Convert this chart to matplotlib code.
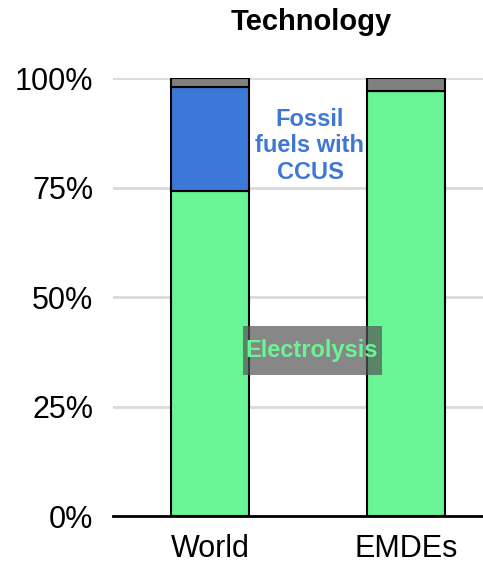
import matplotlib
matplotlib.use("Agg")
import matplotlib.pyplot as plt
from matplotlib.patches import Rectangle

plt.rcParams['font.family'] = ['Liberation Sans', 'DejaVu Sans']

categories = ["World", "EMDEs"]
electrolysis = [74.2, 97.0]
fossil_ccus = [23.8, 0.0]
other = [2.0, 3.0]
yticks = [0, 25, 50, 75, 100]
ytick_labels = ["0%", "25%", "50%", "75%", "100%"]

c_green = "#69F595"
c_blue = "#3C78D8"
c_gray = "#808080"

fig = plt.figure(figsize=(4.83, 5.66), dpi=100)
ax = fig.add_axes([0.234, 0.0883, 0.766, 0.7738])

x = list(range(len(categories)))
w = 0.4
ax.bar(x, electrolysis, width=w, color=c_green, edgecolor="black", linewidth=1.5, zorder=3)
b1 = electrolysis
ax.bar(x, fossil_ccus, width=w, bottom=b1, color=c_blue, edgecolor="black", linewidth=1.5, zorder=3)
b2 = [a + b for a, b in zip(electrolysis, fossil_ccus)]
ax.bar(x, other, width=w, bottom=b2, color=c_gray, edgecolor="black", linewidth=1.5, zorder=3)

ax.set_xlim(-0.495, 1.393)
ax.set_ylim(0, 100)
ax.set_yticks(yticks)
ax.set_yticklabels(ytick_labels, fontsize=22)
ax.set_xticks(x)
ax.set_xticklabels(categories, fontsize=22)
ax.tick_params(axis='y', length=0, pad=14)
ax.tick_params(axis='x', length=0, pad=13)
ax.yaxis.grid(True, color="#d9d9d9", linewidth=2, zorder=0)
for s in ["top", "right", "left"]:
    ax.spines[s].set_visible(False)
ax.spines["bottom"].set_linewidth(2)
ax.spines["bottom"].set_zorder(4)

ax.text(0.51, 84.5, "Fossil\nfuels with\nCCUS", color="#3F78D4", fontsize=17, fontweight="bold",
        ha="center", va="center", linespacing=1.2, zorder=5)
ax.add_patch(Rectangle((0.168, 32.2), 0.709, 11.2, facecolor="#555555", edgecolor="none",
                       alpha=0.7, zorder=4))
ax.text(0.52, 37.8, "Electrolysis", color=c_green, fontsize=17, fontweight="bold",
        ha="center", va="center", zorder=5)

fig.text(0.645, 0.962, "Technology", fontsize=21, fontweight="bold", ha="center", va="center")

fig.savefig("out.png", dpi=100)
